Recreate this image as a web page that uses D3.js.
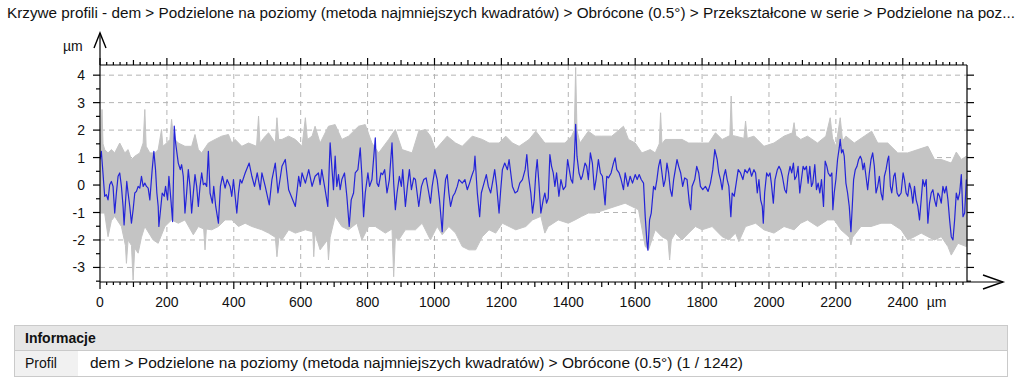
<!DOCTYPE html>
<html>
<head>
<meta charset="utf-8">
<script src="https://cdn.jsdelivr.net/npm/d3@7"></script>
<style>
  body { margin: 0; background: #fff; }
  svg text { font-family: "Liberation Sans", Arial, sans-serif; fill: #111; }
</style>
</head>
<body>
<svg id="chart" width="1024" height="391"></svg>
<script>
const titleText = "Krzywe profili - dem > Podzielone na poziomy (metoda najmniejszych kwadratów) > Obrócone (0.5°) > Przekształcone w serie > Podzielone na poz...";
const infoHeader = "Informacje";
const infoLabel = "Profil";
const infoValue = "dem > Podzielone na poziomy (metoda najmniejszych kwadratów) > Obrócone (0.5°) (1 / 1242)";

const xTicks = [0, 200, 400, 600, 800, 1000, 1200, 1400, 1600, 1800, 2000, 2200, 2400];
const yTicks = [-3, -2, -1, 0, 1, 2, 3, 4];
const xUnit = "µm";
const yUnit = "µm";

// selected profile (blue), [µm, µm]
const blueProfile = [
  [0,0.93],[4,1.23],[14,-0.41],[19,-0.35],[24,-0.54],[29,0.01],[34,0.13],[39,-0.05],[44,-1.02],[49,-0.29],
  [54,0.32],[59,0.44],[64,-0.05],[69,-0.78],[72,-1.45],[76,-0.66],[80,0.13],[84,-0.29],[89,-0.78],[94,-1.39],
  [99,-0.9],[104,-0.29],[109,-0.23],[114,-0.05],[119,-0.11],[124,0.32],[129,-0.05],[134,0.07],[139,-0.05],[144,-0.11],
  [149,-0.54],[156,0.56],[161,1.23],[166,0.56],[170,-0.29],[174,-0.78],[176,-1.51],[182,-0.78],[186,-0.29],[192,-0.41],
  [196,-0.05],[202,-0.54],[206,0.32],[212,-0.54],[217,-1.33],[220,0.44],[222,2.15],[226,1.54],[234,0.8],[240,0.56],
  [244,0.74],[249,0.32],[254,-1.02],[259,-0.29],[264,0.56],[269,-0.05],[274,-1.02],[279,-0.29],[284,0.38],[289,-0.05],
  [294,-0.78],[299,-0.05],[304,0.44],[309,0.01],[314,0.07],[319,-0.05],[324,1.23],[329,-0.29],[336,-0.66],[340,-0.05],
  [346,-0.78],[354,-1.39],[360,-0.05],[366,0.32],[374,-0.11],[380,0.2],[389,-0.05],[394,-0.41],[399,0.2],[409,-1.02],
  [414,-0.29],[419,0.2],[424,0.07],[434,0.44],[446,0.8],[454,0.32],[462,-0.05],[470,0.44],[479,-0.17],[484,0.44],
  [494,-0.05],[506,-0.72],[514,0.2],[524,0.8],[532,-0.29],[544,0.68],[554,0.93],[564,-0.17],[584,-0.78],[594,0.32],
  [599,-0.05],[604,0.44],[614,0.07],[624,0.56],[634,-0.05],
  [643,0.32],[653,0.44],[658,0.01],[663,0.56],[673,-0.17],[681,-0.78],[688,1.54],[693,0.68],[698,-0.17],[703,1.05],
  [708,-0.05],[713,0.38],[718,-0.17],[723,0.2],[731,0.44],[738,-0.41],[745,-1.51],[751,-0.54],[758,-0.29],[763,0.44],
  [771,0.56],[778,1.35],[783,0.32],[788,-1.15],[793,-0.29],[801,0.44],[806,-0.05],[813,0.2],[823,1.72],[828,0.07],
  [833,-0.05],[840,0.44],[845,0.38],[851,0.56],[858,-0.29],[865,0.2],[873,1.54],[878,0.07],[883,-0.9],[888,-0.29],
  [895,0.32],[901,-0.05],[905,0.56],[913,-0.78],[919,-0.05],[925,0.56],[931,-0.17],[938,0.26],[943,0.2],[948,-0.29],
  [953,-0.78],[961,-0.05],[968,0.2],[975,0.26],[983,-0.29],[988,-0.66],[993,-0.05],[1001,0.56],[1008,0.2],[1015,-0.54],
  [1023,-1.7],[1028,-0.54],[1033,0.2],[1038,0.38],[1043,-0.29],[1048,-0.78],[1055,-0.41],[1061,-0.29],[1068,-0.05],[1073,0.2],
  [1083,0.07],[1091,0.2],[1098,-0.17],[1105,0.07],[1111,0.32],[1118,0.56],[1121,1.05],[1128,-0.29],[1135,-1.15],[1140,-0.29],
  [1148,0.07],[1155,0.38],[1161,-0.05],[1168,-0.29],[1175,0.2],[1180,0.56],[1186,-0.05],[1193,-1.02],[1198,-0.17],[1203,0.56],
  [1210,0.8],[1218,0.56],[1223,0.93],[1228,0.44],[1233,-0.05],[1241,-0.29],[1248,-0.23],[1255,0.07],[1263,0.2],[1271,0.56],
  [1276,1.11],[1281,0.32],[1288,-0.29],[1293,-1.02],[1298,-0.54],[1303,0.44],[1307,0.93],[1312,0.1],[1318,-1.02],[1325,-0.54],
  [1330,-0.29],[1335,-0.66],[1340,-0.48],[1345,1.11],[1350,0.68],[1355,0.44],[1360,-0.05],[1365,0.44],[1372,-0.41],[1378,0.2],
  [1385,-0.17],[1392,-0.05],[1398,0.93],[1403,0.56],[1408,0.2],[1413,0.07],[1418,0.93],[1422,2.21],[1426,1.05],[1432,0.44],
  [1438,0.2],[1442,0.32],[1450,0.8],[1455,0.68],[1460,0.2],[1466,1.17],[1472,0.8],[1478,-0.17],[1483,0.2],[1490,0.93],
  [1496,0.44],[1502,0.32],[1510,-0.72],[1515,0.32],[1520,0.26],[1528,0.44],[1535,0.8],[1540,0.99],[1545,0.56],[1552,0.44],
  [1558,0.2],[1565,-0.17],[1570,0.44],[1578,-0.05],[1585,0.32],[1592,0.07],[1600,0.38],[1606,0.2],[1612,0.38],[1618,0.2],
  [1625,0.07],[1630,-1.15],[1635,-2.06],[1638,-2.37],[1643,-1.27],[1648,-1.02],[1655,-0.05],[1660,-0.17],[1665,0.2],[1670,0.68],
  [1675,0.93],[1680,0.44],[1685,-0.05],[1690,0.2],[1695,0.8],[1700,0.44],[1705,-0.17],[1710,-0.41],[1715,0.2],[1720,0.56],
  [1725,0.93],[1730,0.68],[1736,0.44],[1742,-0.05],[1748,0.26],[1755,0.2],[1762,-0.66],[1766,-0.9],[1770,-0.05],[1778,0.2],
  [1784,0.68],[1790,0.44],[1795,-0.05],[1802,-0.17],[1810,-0.05],[1818,-0.23],[1825,0.07],[1832,0.56],[1838,1.29],[1845,0.93],
  [1850,0.44],[1855,0.2],[1860,-0.17],[1865,0.32],[1870,0.56],[1875,0.2],[1880,-0.05],[1886,-1.15],[1890,-0.29],[1896,-0.41],
  [1902,0.07],[1908,0.56],[1915,0.44],[1922,0.2],[1928,0.56],[1935,0.44],[1942,0.62],[1948,0.32],
  [1955,0.56],[1960,0.44],[1965,-0.29],[1970,0.2],[1975,-0.54],[1980,-0.78],[1983,-1.39],[1987,-0.29],[1993,0.44],[1998,0.32],
  [2003,0.44],[2007,0.07],[2013,-0.66],[2018,0.2],[2025,0.56],[2030,0.68],[2035,0.56],[2040,0.32],[2047,-0.17],[2052,-0.29],
  [2057,0.32],[2063,0.68],[2068,0.44],[2073,0.8],[2077,0.2],[2082,0.32],[2087,0.68],[2092,-0.29],[2097,0.2],[2102,0.68],
  [2107,0.56],[2112,0.68],[2117,0.07],[2122,0.68],[2127,-0.05],[2131,0.07],[2137,0.74],[2142,-0.17],[2147,0.07],[2152,-0.29],
  [2157,0.2],[2163,-0.78],[2168,0.87],[2173,0.68],[2177,0.44],[2183,0.32],[2188,0.44],[2191,-0.9],[2195,-0.29],[2200,0.2],
  [2205,0.93],[2210,1.35],[2213,1.66],[2217,1.17],[2221,1.29],[2225,1.05],[2230,0.07],[2235,-0.29],[2240,-0.78],[2245,-1.7],
  [2249,-0.78],[2253,0.2],[2258,0.56],[2263,0.68],[2268,0.93],[2273,1.05],[2277,0.93],[2281,0.56],[2285,0.8],[2290,0.32],
  [2295,-0.17],[2300,0.44],[2305,0.93],[2310,1.17],[2315,0.68],[2320,-0.29],[2325,-0.05],[2330,0.32],[2335,-0.29],[2340,-0.54],
  [2345,0.32],[2350,0.56],[2355,0.93],[2358,1.05],[2363,-0.05],[2367,-0.29],[2373,0.32],[2377,0.44],[2383,-0.29],[2388,-0.41],
  [2395,-0.29],[2401,0.44],[2405,0.2],[2410,-0.29],[2415,-0.41],[2420,0.07],[2425,-0.17],[2430,-0.66],[2435,-0.05],[2440,-0.54],
  [2445,-0.78],[2450,-1.27],[2455,-0.54],[2460,0.2],[2465,-0.05],[2470,0.2],[2475,-1.39],[2480,-0.66],[2485,-0.29],[2490,-0.17],
  [2495,-0.54],[2500,-0.78],[2505,-0.29],[2510,-0.41],[2515,-0.66],[2520,-0.05],[2525,-0.29],[2530,-0.05],[2535,-0.54],[2540,-1.27],
  [2545,-1.88],[2550,-2.0],[2555,-1.27],[2560,-0.29],[2565,-0.54],[2570,-0.29],[2575,0.38],[2580,-1.15],[2585,-1.02],[2590,0.2]
];

// all other profiles (gray band): upper and lower edges
const grayUpper = [
  [0,1.05],[3,1.9],[6,2.75],[9,1.5],[14,1.29],[24,1.17],[34,1.29],[44,1.17],[59,1.53],[74,1.17],
  [84,1.29],[94,0.93],[104,1.05],[119,1.17],[129,1.53],[134,2.75],[138,1.41],[149,1.17],[164,1.17],[174,1.29],
  [184,2.02],[188,1.41],[199,1.53],[209,1.66],[214,2.39],[220,1.66],[224,1.66],[234,1.53],[254,1.41],[274,1.41],
  [284,1.84],[294,1.29],[304,1.17],[324,1.53],[344,1.66],[364,1.78],[384,1.84],[394,1.53],[404,1.66],[424,1.41],
  [444,1.53],[468,1.41],[474,2.51],[478,1.53],[494,1.78],[504,1.9],[524,1.53],[529,2.45],[534,1.66],[544,1.66],
  [564,1.78],[584,1.66],[604,1.41],[614,2.45],[620,1.66],[634,1.78],[643,2.14],[658,1.53],[683,2.14],[703,2.2],
  [723,1.66],[743,1.78],[773,2.14],[793,2.2],[813,1.53],[833,1.17],[863,1.66],[883,2.02],[903,1.29],[933,1.17],
  [953,1.96],[973,2.02],[988,1.78],[1003,1.29],[1038,1.78],[1063,1.53],[1083,1.41],[1113,1.78],[1143,1.66],[1163,1.53],
  [1193,1.53],[1213,1.78],[1233,1.53],[1253,1.41],[1283,1.66],[1303,1.96],[1330,1.53],[1360,1.53],[1390,1.53],[1410,1.78],
  [1418,2.0],[1422,4.28],[1426,2.0],[1435,1.53],[1460,1.96],[1480,1.78],[1500,1.78],[1530,1.78],[1565,2.14],[1580,1.66],
  [1600,1.53],[1620,1.17],[1645,1.29],[1660,1.17],[1672,1.5],[1676,2.63],[1680,1.5],[1690,1.66],[1710,1.66],[1740,1.66],
  [1760,1.53],[1790,1.53],[1820,1.53],[1840,1.9],[1860,1.66],[1883,1.8],[1887,3.24],[1891,1.8],[1900,1.78],[1925,1.7],
  [1930,2.33],[1935,1.7],[1955,1.78],[1985,1.41],[2015,1.53],[2045,1.78],[2070,1.9],[2075,2.27],[2080,1.8],[2095,1.66],
  [2115,1.78],[2145,1.53],[2170,1.78],[2183,2.45],[2190,1.7],[2200,1.41],[2213,2.45],[2220,1.6],[2230,1.78],[2255,1.53],
  [2285,1.78],[2307,1.96],[2325,1.53],[2355,1.53],[2385,1.17],[2415,1.17],[2445,1.29],[2475,1.41],[2495,0.93],[2515,0.93],
  [2545,0.8],[2560,1.2],[2575,0.93],[2590,1.05]
];
const grayLower = [
  [0,-1.02],[14,-1.02],[24,-1.88],[34,-1.3],[44,-1.14],[64,-1.51],[76,-2.2],[79,-2.85],[84,-2.0],[94,-2.2],
  [99,-3.46],[104,-2.3],[114,-2.48],[124,-1.9],[134,-1.51],[159,-2.0],[174,-2.12],[194,-1.51],[214,-1.27],[234,-1.39],
  [254,-1.27],[279,-1.81],[294,-1.51],[310,-1.6],[314,-2.36],[318,-1.6],[334,-1.63],[354,-1.51],[374,-1.27],[394,-1.27],
  [414,-1.51],[434,-1.39],[454,-1.51],[484,-1.63],[504,-1.75],[524,-1.9],[529,-2.61],[535,-1.9],[544,-2.0],[564,-1.63],
  [584,-1.75],[614,-1.63],[636,-1.7],[639,-2.61],[643,-1.75],[658,-2.36],[680,-2.0],[683,-2.73],[688,-1.9],[703,-1.14],
  [723,-1.51],[743,-1.63],[768,-1.39],[783,-2.0],[803,-1.51],[823,-1.51],[853,-1.75],[873,-1.6],[878,-3.34],[883,-1.9],
  [893,-2.0],[913,-1.63],[943,-1.63],[963,-1.39],[988,-2.0],[1008,-1.51],[1023,-1.81],[1043,-1.51],[1063,-1.75],[1083,-2.24],
  [1103,-2.36],[1123,-2.36],[1143,-1.88],[1163,-1.63],[1183,-1.75],[1203,-1.39],[1223,-1.51],[1243,-1.63],[1273,-1.51],[1293,-1.27],
  [1318,-1.14],[1330,-1.75],[1340,-1.51],[1370,-1.27],[1400,-1.39],[1420,-1.27],[1440,-1.14],[1460,-1.02],[1480,-1.02],[1510,-0.9],
  [1540,-0.78],[1570,-0.66],[1590,-0.78],[1610,-0.9],[1630,-2.24],[1640,-2.36],[1660,-1.63],[1680,-1.88],[1698,-2.0],[1703,-2.73],
  [1708,-2.0],[1720,-1.75],[1740,-2.0],[1760,-1.75],[1780,-1.51],[1800,-1.63],[1830,-1.51],[1860,-1.88],[1880,-2.0],[1900,-1.75],
  [1910,-2.06],[1930,-1.51],[1960,-1.39],[1985,-1.63],[2015,-1.75],[2045,-1.51],[2075,-1.63],[2095,-1.39],[2115,-1.27],[2145,-1.51],
  [2175,-1.27],[2195,-1.27],[2215,-1.63],[2240,-1.9],[2245,-2.18],[2250,-1.9],[2275,-1.51],[2305,-1.51],[2335,-1.39],[2365,-1.39],
  [2395,-1.63],[2415,-2.0],[2435,-1.88],[2455,-1.75],[2475,-1.88],[2495,-2.0],[2515,-1.88],[2535,-2.24],[2545,-2.55],[2565,-2.12],
  [2590,-2.24]
];

const svg = d3.select('#chart');
const plot = { left: 100, right: 967, top: 65, bottom: 282 };

const x = d3.scaleLinear().domain([0, 2592]).range([plot.left, plot.right]);
const y = d3.scaleLinear().domain([-3.53, 4.37]).range([plot.bottom, plot.top]);

// title
svg.append('text')
  .attr('x', 7).attr('y', 18)
  .attr('font-size', 14)
  .attr('textLength', 1008).attr('lengthAdjust', 'spacingAndGlyphs')
  .text(titleText);

// grid
const grid = svg.append('g').attr('stroke', '#b4b4b4').attr('stroke-dasharray', '5,4');
grid.selectAll('.gx').data(xTicks.filter(d => d > 0)).enter().append('line')
  .attr('x1', d => x(d)).attr('x2', d => x(d))
  .attr('y1', plot.top).attr('y2', plot.bottom);
grid.selectAll('.gy').data(yTicks).enter().append('line')
  .attr('x1', plot.left).attr('x2', plot.right)
  .attr('y1', d => y(d)).attr('y2', d => y(d));

svg.append('clipPath').attr('id', 'clip').append('rect')
  .attr('x', plot.left).attr('y', plot.top)
  .attr('width', plot.right - plot.left).attr('height', plot.bottom - plot.top);

const line = d3.line().x(d => x(d[0])).y(d => y(d[1]));

// gray band: upper edge forward, lower edge back
const band = grayUpper.concat(grayLower.slice().reverse());
svg.append('path')
  .attr('clip-path', 'url(#clip)')
  .attr('d', line(band) + 'Z')
  .attr('fill', '#c4c4c4')
  .attr('stroke', '#c4c4c4')
  .attr('stroke-width', 1);

svg.append('path')
  .attr('clip-path', 'url(#clip)')
  .attr('d', line(blueProfile))
  .attr('fill', 'none')
  .attr('stroke', '#2424d8')
  .attr('stroke-width', 1.2)
  .attr('stroke-linejoin', 'round');

// axes (major, mid and minor ticks)
const minorX = d3.range(0, 2592, 20);
const minorY = d3.range(-3.5, 4.01, 0.5);
const tickLenX = d => d % 200 === 0 ? 7 : (d % 100 === 0 ? 5 : 3);
const tickLenY = d => Number.isInteger(d) ? 7 : 4;

const axes = svg.append('g').attr('stroke', '#000').attr('stroke-width', 1.2);
axes.selectAll('.tb').data(minorX).enter().append('line')
  .attr('x1', d => x(d)).attr('x2', d => x(d))
  .attr('y1', plot.bottom).attr('y2', d => plot.bottom + tickLenX(d));
axes.selectAll('.tt').data(minorX).enter().append('line')
  .attr('x1', d => x(d)).attr('x2', d => x(d))
  .attr('y1', plot.top).attr('y2', d => plot.top - tickLenX(d));
axes.selectAll('.tl').data(minorY).enter().append('line')
  .attr('y1', d => y(d)).attr('y2', d => y(d))
  .attr('x1', plot.left).attr('x2', d => plot.left - tickLenY(d));
axes.selectAll('.tr').data(minorY).enter().append('line')
  .attr('y1', d => y(d)).attr('y2', d => y(d))
  .attr('x1', plot.right).attr('x2', d => plot.right + tickLenY(d));

// frame + arrows
axes.append('line').attr('x1', plot.left).attr('x2', plot.right).attr('y1', plot.top).attr('y2', plot.top);
axes.append('line').attr('x1', plot.right).attr('x2', plot.right).attr('y1', plot.top).attr('y2', plot.bottom);
axes.append('line').attr('x1', plot.left).attr('x2', plot.left).attr('y1', plot.bottom).attr('y2', 33);
axes.append('line').attr('x1', plot.left).attr('x2', 1003).attr('y1', plot.bottom).attr('y2', plot.bottom);
axes.append('path').attr('fill', 'none').attr('stroke-width', 1.4)
  .attr('d', `M${plot.left - 6},48L${plot.left},33L${plot.left + 6},48`);
axes.append('path').attr('fill', 'none').attr('stroke-width', 1.4)
  .attr('d', `M983,${plot.bottom - 7}L1003,${plot.bottom}L983,${plot.bottom + 7}`);

// labels
svg.selectAll('.xl').data(xTicks).enter().append('text')
  .attr('x', d => x(d)).attr('y', 307)
  .attr('text-anchor', 'middle').attr('font-size', 14)
  .text(d => d);
svg.append('text').attr('x', x(2400) + 24).attr('y', 307).attr('font-size', 14).text(xUnit);

svg.selectAll('.yl').data(yTicks).enter().append('text')
  .attr('x', 85).attr('y', d => y(d)).attr('dy', '0.36em')
  .attr('text-anchor', 'end').attr('font-size', 14)
  .text(d => d);
svg.append('text').attr('x', 63).attr('y', 51).attr('font-size', 14).text(yUnit);

// info table
const tbl = svg.append('g');
tbl.append('rect').attr('x', 14.5).attr('y', 325.5).attr('width', 993).attr('height', 25)
  .attr('fill', '#e6e6e6').attr('stroke', '#cacaca');
tbl.append('rect').attr('x', 14.5).attr('y', 350.5).attr('width', 993).attr('height', 26)
  .attr('fill', '#fff').attr('stroke', '#cacaca');
tbl.append('rect').attr('x', 15).attr('y', 351).attr('width', 63).attr('height', 25)
  .attr('fill', '#f1f1f1');
tbl.append('text').attr('x', 25).attr('y', 343).attr('font-size', 14).attr('font-weight', 'bold').text(infoHeader);
tbl.append('text').attr('x', 25).attr('y', 368).attr('font-size', 14).text(infoLabel);
tbl.append('text').attr('x', 90).attr('y', 368).attr('font-size', 14)
  .attr('textLength', 653).attr('lengthAdjust', 'spacingAndGlyphs')
  .text(infoValue);
</script>
</body>
</html>
